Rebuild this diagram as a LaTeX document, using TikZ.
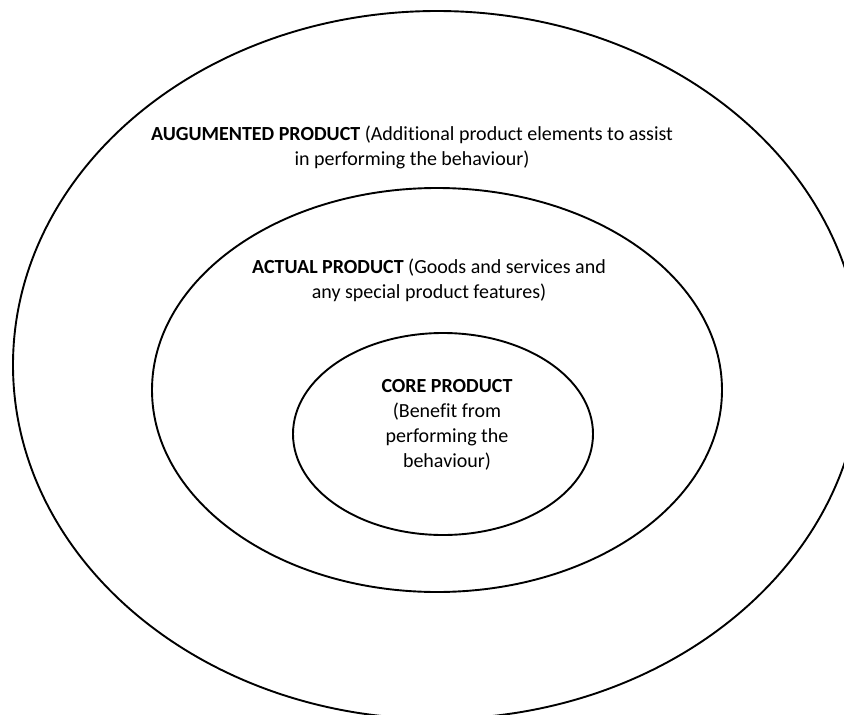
\documentclass[tikz,border=0pt]{standalone}
\usepackage{fontspec}
\setmainfont{Carlito}[Ligatures=NoCommon]
\usetikzlibrary{shapes.geometric}
\begin{document}
\begin{tikzpicture}[x=1pt,y=-1pt,
  ring/.style={draw=black, line width=1.9pt, ellipse, inner sep=0pt},
  lbl/.style={align=center, inner sep=0pt, font=\fontsize{20}{25}\selectfont, anchor=base}]
\useasboundingbox (0,0) rectangle (844,715);
\clip (0,0) rectangle (844,715);
\node[ring, minimum width=848pt, minimum height=708pt] (outer) at (437,365) {};
\node[ring, minimum width=570pt, minimum height=404pt] (middle) at (437,390) {};
\node[ring, minimum width=300pt, minimum height=202pt] (inner) at (443,434) {};
\node[lbl] (aug) at (412,165) {\textbf{AUGUMENTED PRODUCT} (Additional product elements to assist\\in performing the behaviour)};
\node[lbl] (act) at (429,298) {\textbf{ACTUAL PRODUCT} (Goods and services and\\any special product features)};
\node[lbl] (core) at (447,467) {\textbf{CORE PRODUCT}\\(Benefit from\\performing the\\behaviour)};
\end{tikzpicture}
\end{document}
